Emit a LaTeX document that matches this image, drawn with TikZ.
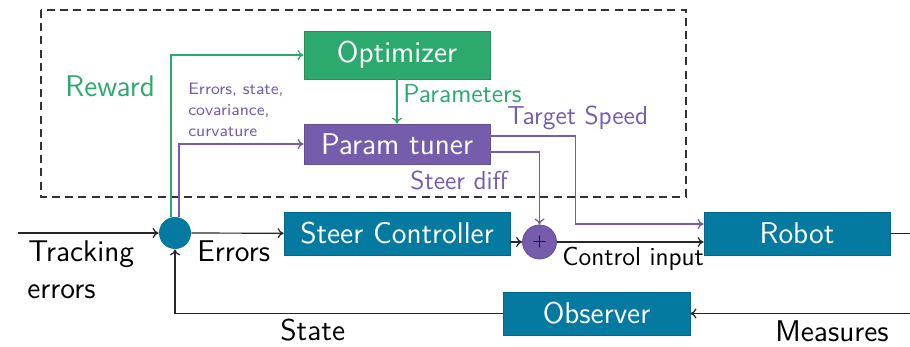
\documentclass[tikz,border=0pt]{standalone}
\usetikzlibrary{arrows.meta,calc}
\renewcommand{\familydefault}{\sfdefault}
\definecolor{tealc}{RGB}{4,122,160}
\definecolor{greenc}{RGB}{44,170,110}
\definecolor{purplec}{RGB}{118,93,171}
\definecolor{dashc}{RGB}{50,50,50}
\begin{document}
\begin{tikzpicture}[x=0.5pt,y=-0.5pt,
  font=\fontsize{15}{18}\selectfont\sffamily,
  box/.style={rectangle, text=white, inner sep=0pt, minimum height=21.5pt},
  tbox/.style={box, fill=tealc, draw=tealc!85!black, line width=0.4pt},
  gbox/.style={box, fill=greenc, draw=greenc!85!black, line width=0.4pt},
  pbox/.style={box, fill=purplec, draw=purplec!85!black, line width=0.4pt},
  conn/.style={line width=0.6pt, -{To[length=3pt,width=5pt]}},
  kline/.style={conn, draw=black!85},
  gline/.style={conn, draw=greenc},
  pline/.style={conn, draw=purplec},
  medium/.style={font=\fontsize{13}{15}\selectfont\sffamily},
  small/.style={font=\fontsize{8.3}{10.5}\selectfont\sffamily},
]
\useasboundingbox (0,0) rectangle (910,347);

% dashed frame
\draw[dashc, line width=0.9pt, dash pattern=on 4pt off 2.6pt] (41,10) rectangle (686,197);

% boxes
\node[gbox, minimum width=93pt, minimum height=24pt] (opt) at (397,55) {Optimizer};
\node[pbox, minimum width=93pt, minimum height=20pt] (tuner) at (397,144) {Param tuner};
\node[tbox, minimum width=113pt] (steer) at (397,233.5) {Steer Controller};
\node[tbox, minimum width=93pt] (robot) at (797,233.5) {Robot};
\node[tbox, minimum width=93.5pt] (obs) at (596.5,313.5) {Observer};

% junctions
\node[circle, fill=tealc, inner sep=0pt, minimum size=16pt] (sum) at (175,233) {};
\node[circle, fill=purplec, draw=purplec!85!black, line width=0.4pt, inner sep=0pt, minimum size=17pt, font=\fontsize{9}{10}\selectfont] (plus) at (539.5,242) {+};

% free ends
\coordinate (tin) at (18,233);
\coordinate (rout) at (910,233.5);
\coordinate (min) at (910,313.5);

% connectors
\draw[kline] (tin) -- (sum);
\draw[kline] (sum) -- (steer);
\draw[kline] (steer.east |- plus.west) -- (plus.west);
\draw[kline] (plus.east) -- (robot.west |- plus.east);
\draw[line width=0.6pt, draw=black!85] (robot.east) -- (rout);
\draw[kline] (min) -- (obs.east);
\draw[kline] (obs.west) -| (sum.south);

\draw[gline] (sum.104) |- (opt.west);
\draw[pline] (sum.76) |- (tuner.west);
\draw[gline] (opt.south) -- (tuner.north);
\draw[pline] ([yshift=4pt]tuner.east) -- ++(85,0) |- ([yshift=4.75pt]robot.west);
\draw[pline] ([yshift=-4pt]tuner.east) -| (plus.north);

% labels
\node[anchor=base west, text=greenc, inner sep=0pt] (lrew) at (65,97) {Reward};
\node[anchor=base west, text=purplec, inner sep=0pt, small, align=left] (lerr) at (188,137) {Errors, state,\\covariance,\\curvature};
\node[anchor=base west, text=greenc, inner sep=0pt, medium] (lpar) at (403,103) {Parameters};
\node[anchor=base west, text=purplec, inner sep=0pt, medium] (ltgt) at (507,125) {Target Speed};
\node[anchor=base west, text=purplec, inner sep=0pt, medium] (lsd) at (410,190) {Steer diff};
\node[anchor=base west, inner sep=0pt] (ltr1) at (28,262) {Tracking};
\node[anchor=base west, inner sep=0pt] (ltr2) at (27,299) {errors};
\node[anchor=base west, inner sep=0pt] (lerrs) at (197,262) {Errors};
\node[anchor=base west, inner sep=0pt, medium] (lci) at (562,265) {Control input};
\node[anchor=base west, inner sep=0pt] (lst) at (280,340) {State};
\node[anchor=base west, inner sep=0pt] (lmeas) at (775,342) {Measures};
\end{tikzpicture}
\end{document}
